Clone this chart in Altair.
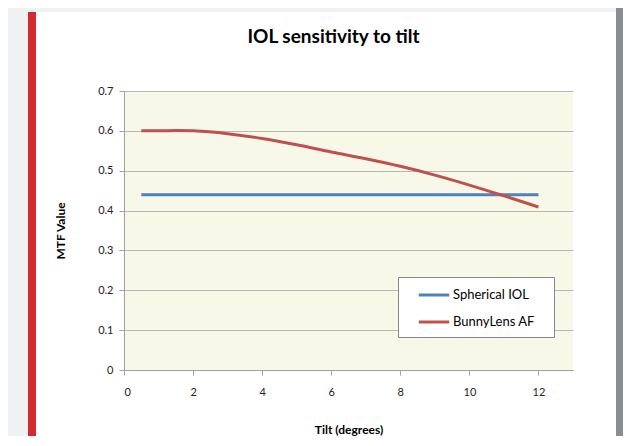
import altair as alt
import pandas as pd

tilt_spherical = [0.5, 12]
mtf_spherical = [0.44, 0.44]
tilt_bunny = [0.5, 1, 1.5, 2, 3, 4, 5, 6, 7, 8, 9, 10, 11, 12]
mtf_bunny = [0.600, 0.600, 0.601, 0.600, 0.593, 0.581, 0.565, 0.547, 0.530, 0.511, 0.489, 0.464, 0.437, 0.409]
series = ["Spherical IOL", "BunnyLens AF"]
colors = ["#4F81BD", "#C0504D"]

rows = [{"tilt": t, "mtf": v, "series": series[0]} for t, v in zip(tilt_spherical, mtf_spherical)]
rows += [{"tilt": t, "mtf": v, "series": series[1]} for t, v in zip(tilt_bunny, mtf_bunny)]
df = pd.DataFrame(rows)

FONT = "Lato"
W, H = 449, 279

deco = pd.DataFrame({"k": [0]})
top_gray = alt.Chart(deco).mark_rect(color="#F0F1F3").encode(
    x=alt.value(-116), x2=alt.value(492), y=alt.value(-83), y2=alt.value(-79)
)
left_gray = alt.Chart(deco).mark_rect(color="#F0F1F3").encode(
    x=alt.value(-116), x2=alt.value(-96), y=alt.value(-79), y2=alt.value(H + 66)
)
bar = alt.Chart(deco).mark_rect(color="#D42A2F").encode(
    x=alt.value(-96), x2=alt.value(-88), y=alt.value(-79), y2=alt.value(H + 66)
)
right_gray = alt.Chart(deco).mark_rect(color="#8A8E93").encode(
    x=alt.value(492), x2=alt.value(499), y=alt.value(-83), y2=alt.value(H + 66)
)
legend_box = alt.Chart(deco).mark_rect(fill="white", stroke="#888888", strokeWidth=1).encode(
    x=alt.value(274.5), x2=alt.value(430.5), y=alt.value(186.5), y2=alt.value(246.5)
)

lines = alt.Chart(df).mark_line(strokeWidth=3, interpolate="monotone").encode(
    x=alt.X("tilt:Q", scale=alt.Scale(domain=[0, 13], nice=False),
            axis=alt.Axis(title="Tilt (degrees)", values=[0, 2, 4, 6, 8, 10, 12],
                          grid=False, labelPadding=11, titlePadding=27)),
    y=alt.Y("mtf:Q", scale=alt.Scale(domain=[0, 0.7], nice=False),
            axis=alt.Axis(title="MTF Value", values=[0, 0.1, 0.2, 0.3, 0.4, 0.5, 0.6, 0.7],
                          labelExpr="datum.value == 0 ? '0' : format(datum.value, '.1f')",
                          grid=True, labelPadding=6, titlePadding=30)),
    color=alt.Color("series:N", sort=series,
                    scale=alt.Scale(domain=series, range=colors),
                    legend=alt.Legend(title=None, orient="none", legendX=274, legendY=186,
                                      symbolType="M-1.6,0H1.6", symbolStrokeWidth=3, symbolSize=361,
                                      symbolFillColor="transparent",
                                      padding=7, rowPadding=9, labelFontSize=13, labelOffset=8,
                                      labelFont=FONT, labelColor="#000000", labelLimit=250,
                                      symbolOffset=18)),
)

chart = alt.layer(top_gray, left_gray, bar, right_gray, legend_box, lines).properties(
    width=W, height=H,
    title=alt.TitleParams("IOL sensitivity to tilt", fontSize=19, font=FONT, fontWeight="bold",
                          color="#000000", anchor="middle", dx=-15, offset=-39),
    autosize=alt.AutoSizeParams(type="none"),
    padding={"left": 116, "top": 83, "right": 50, "bottom": 66},
    background="white",
).configure_view(
    fill="#F8F8E8", stroke=None
).configure_axis(
    labelFont=FONT, titleFont=FONT, labelFontSize=11, titleFontSize=12,
    labelColor="#222222", titleColor="#000000", titleFontWeight="bold",
    domainColor="#A0A0A0", tickColor="#A0A0A0", gridColor="#B8B8B8",
    tickSize=5,
)

chart.save("out.html", embed_options={"renderer": "svg", "actions": False})
